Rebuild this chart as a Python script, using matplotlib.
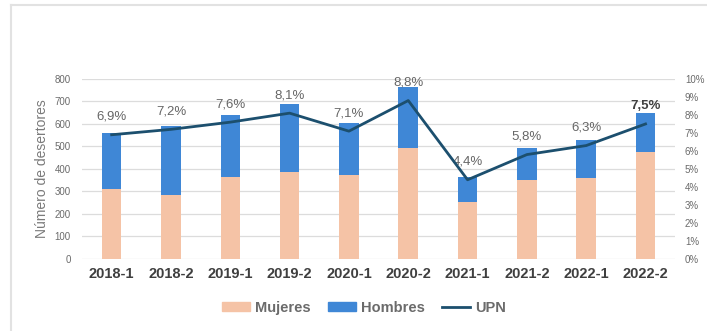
import matplotlib.pyplot as plt
from matplotlib.lines import Line2D
from matplotlib.patches import Patch

# Desertores por semestre
semestres = ['2018-1', '2018-2', '2019-1', '2019-2', '2020-1',
             '2020-2', '2021-1', '2021-2', '2022-1', '2022-2']
mujeres = [310, 285, 365, 385, 375, 495, 255, 350, 360, 475]
totales = [560, 590, 640, 690, 605, 765, 365, 495, 530, 650]
hombres = [t - m for t, m in zip(totales, mujeres)]
tasa_upn = [6.9, 7.2, 7.6, 8.1, 7.1, 8.8, 4.4, 5.8, 6.3, 7.5]

c_muj = '#F5C3A6'
c_hom = '#3F87D6'
c_upn = '#1C4F6E'
gris = '#6b6b6b'

plt.rcParams['font.family'] = ['Liberation Sans', 'DejaVu Sans']

fig = plt.figure(figsize=(7.07, 3.31), dpi=100)
ax = fig.add_axes([0.116, 0.2175, 0.839, 0.544])
ax2 = ax.twinx()

x = range(len(semestres))
ax.bar(x, mujeres, width=0.33, color=c_muj, zorder=2)
ax.bar(x, hombres, width=0.33, bottom=mujeres, color=c_hom, zorder=2)

ax.set_xlim(-0.5, len(semestres) - 0.5)
ax.set_ylim(0, 800)
ax.set_yticks(range(0, 801, 100))
ax.yaxis.grid(True, color='#dcdcdc', linewidth=0.9, zorder=0)
ax.set_axisbelow(True)
ax.set_xticks(list(x))
ax.set_xticklabels(semestres, fontsize=10.5, fontweight='bold', color='#3f3f3f')
ax.tick_params(axis='y', labelsize=7, colors=gris, length=0, pad=8)
ax.tick_params(axis='x', length=0, pad=6)
ax.set_ylabel('Número de desertores', fontsize=10, color='#7a7a7a', labelpad=4)
for s in ax.spines.values():
    s.set_visible(False)

ax2.plot(x, tasa_upn, color=c_upn, linewidth=2.0, zorder=5)
ax2.set_ylim(0, 10)
ax2.set_yticks(range(0, 11))
ax2.set_yticklabels(['%d%%' % v for v in range(0, 11)])
ax2.tick_params(axis='y', labelsize=7, colors=gris, length=0, pad=7)
for s in ax2.spines.values():
    s.set_visible(False)

for i, v in enumerate(tasa_upn):
    ultimo = i == len(tasa_upn) - 1
    ax2.annotate(('%.1f%%' % v).replace('.', ','), (i, v), xytext=(0, 13),
                 textcoords='offset points', ha='center', va='center',
                 fontsize=9.5, color='#404040' if ultimo else '#666666',
                 fontweight='bold' if ultimo else 'normal')

handles = [Patch(color=c_muj), Patch(color=c_hom),
           Line2D([], [], color=c_upn, linewidth=2.0)]
leg = fig.legend(handles, ['Mujeres', 'Hombres', 'UPN'], loc='center',
                 bbox_to_anchor=(0.515, 0.07), ncol=3, frameon=False,
                 handlelength=1.9, handleheight=0.6, columnspacing=1.2,
                 handletextpad=0.35, prop={'size': 10.5, 'weight': 'bold'})
for t in leg.get_texts():
    t.set_color(gris)

# borde gris claro del recuadro
fig.add_artist(Line2D([11 / 707, 11 / 707], [0, 1 - 5 / 331],
                      color='#e2e2e2', linewidth=1.5))
fig.add_artist(Line2D([11 / 707, 1], [1 - 5 / 331, 1 - 5 / 331],
                      color='#e2e2e2', linewidth=1.5))

fig.savefig('out.png', dpi=100)
